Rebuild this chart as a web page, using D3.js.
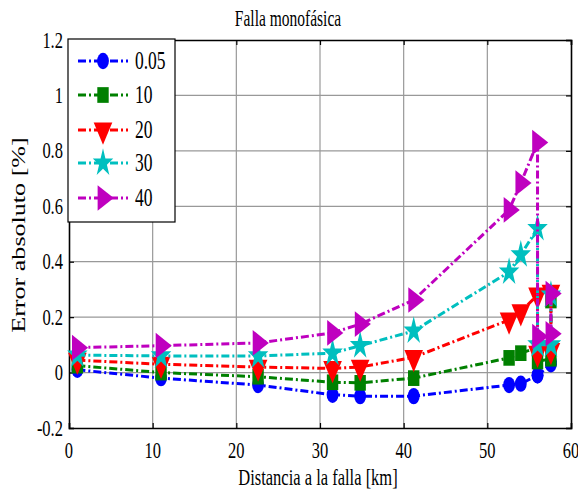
<!DOCTYPE html>
<html>
<head>
<meta charset="utf-8">
<script src="https://cdn.jsdelivr.net/npm/d3@7"></script>
<style>
  body { margin: 0; background: #fff; }
  svg { font-family: 'Liberation Serif', 'Times New Roman', serif; }
</style>
</head>
<body>
<svg id="chart" width="578" height="495"></svg>
<script>
// data
var distance = [1, 11, 22.6, 31.5, 34.8, 41.2, 52.6, 54, 56, 56, 57.6, 57.6];
var err005 = [0.01, -0.02, -0.045, -0.08, -0.085, -0.085, -0.045, -0.04, -0.01, -0.01, 0.03, 0.04];
var err10  = [0.025, 0.0, -0.015, -0.035, -0.037, -0.02, 0.053, 0.07, 0.09, 0.04, 0.05, 0.26];
var err20  = [0.045, 0.03, 0.02, 0.015, 0.02, 0.055, 0.19, 0.22, 0.28, 0.07, 0.08, 0.29];
var err30  = [0.063, 0.06, 0.06, 0.07, 0.097, 0.15, 0.363, 0.425, 0.52, 0.1, 0.1, 0.28];
var err40  = [0.09, 0.097, 0.107, 0.143, 0.175, 0.262, 0.587, 0.684, 0.83, 0.13, 0.14, 0.285];

var seriesNames = ['0.05', '10', '20', '30', '40'];
var seriesValues = [err005, err10, err20, err30, err40];
var seriesColors = ['#0000ff', '#008000', '#ff0000', '#00bfbf', '#bf00bf'];
var seriesSymbols = ['circle', 'square', 'triDown', 'star', 'triRight'];

var xTicks = [0, 10, 20, 30, 40, 50, 60];
var yTicks = [-0.2, 0, 0.2, 0.4, 0.6, 0.8, 1];
var yTickLabels = ['-0.2', '0', '0.2', '0.4', '0.6', '0.8', '1', '1.2'];

var svg = d3.select('#chart');

// layout
var plot = {l: 69, t: 40, w: 502, h: 388};
var stretch = 1.45; // the original picture is stretched vertically

var xScale = d3.scaleLinear().domain([0, 60]).range([plot.l, plot.l + plot.w]);
var yScale = d3.scaleLinear().domain([-0.2, 1.2]).range([plot.t + plot.h, plot.t]);

function addText(x, y, str, size, anchor, rotate) {
    var t = 'translate(' + [x, y] + ') scale(1,' + stretch + ')';
    if (rotate) t += ' rotate(' + rotate + ')';
    svg.append('text')
        .attr('transform', t)
        .attr('text-anchor', anchor || 'start')
        .style('font-size', size + 'px')
        .text(str);
}

// grid
var grid = svg.append('g').attr('class', 'grid');
xTicks.slice(1, -1).forEach(function(v) {
    grid.append('line')
        .attr('x1', xScale(v)).attr('x2', xScale(v))
        .attr('y1', plot.t).attr('y2', plot.t + plot.h)
        .attr('stroke', '#999').attr('stroke-width', 1.2);
});
d3.range(0, 1.01, 0.2).forEach(function(v) {
    grid.append('line')
        .attr('x1', plot.l).attr('x2', plot.l + plot.w)
        .attr('y1', yScale(v)).attr('y2', yScale(v))
        .attr('stroke', '#999').attr('stroke-width', 1.2);
});

// axes, MATLAB style inward ticks on all sides
var xAxisB = svg.append('g')
    .attr('transform', 'translate(' + [0, plot.t + plot.h] + ')')
    .call(d3.axisBottom(xScale).tickValues(xTicks).tickSize(-5).tickFormat(''));
var xAxisT = svg.append('g')
    .attr('transform', 'translate(' + [0, plot.t] + ')')
    .call(d3.axisTop(xScale).tickValues(xTicks).tickSize(-5).tickFormat(''));
var yAxisL = svg.append('g')
    .attr('transform', 'translate(' + [plot.l, 0] + ')')
    .call(d3.axisLeft(yScale).tickValues(yTicks.concat([1.2])).tickSize(-5).tickFormat(''));
var yAxisR = svg.append('g')
    .attr('transform', 'translate(' + [plot.l + plot.w, 0] + ')')
    .call(d3.axisRight(yScale).tickValues(yTicks.concat([1.2])).tickSize(-5).tickFormat(''));
svg.selectAll('.domain').attr('stroke', '#000').attr('stroke-width', 1.6);
svg.selectAll('.tick line').attr('stroke', '#000').attr('stroke-width', 1.2);

// tick labels
xTicks.forEach(function(v) {
    addText(xScale(v), 458, String(v), 16.5, 'middle');
});
yTicks.concat([1.2]).forEach(function(v, i) {
    addText(63, yScale(v) + 7.5, yTickLabels[i], 16.5, 'end');
});

// titles
addText(288, 26, 'Falla monofásica', 15.5, 'middle');
addText(318, 485, 'Distancia a la falla [km]', 16.5, 'middle');
addText(25, 235, 'Error absoluto [%]', 18, 'middle', -90);

// marker shapes
var symbolMap = {
    circle: d3.symbol().type(d3.symbolCircle).size(110),
    square: d3.symbol().type(d3.symbolSquare).size(130),
    triDown: d3.symbol().type(d3.symbolTriangle).size(150),
    star: d3.symbol().type(d3.symbolStar).size(130),
    triRight: d3.symbol().type(d3.symbolTriangle).size(150)
};
var symbolRotate = {circle: 0, square: 0, triDown: 180, star: 0, triRight: 90};

function markerTransform(x, y, sym) {
    return 'translate(' + [x, y] + ') scale(1,' + (stretch * 0.95) + ') rotate(' + symbolRotate[sym] + ')';
}

var line = d3.line()
    .x(function(d) { return xScale(d[0]); })
    .y(function(d) { return yScale(d[1]); });

var seriesG = svg.append('g');
seriesValues.forEach(function(vals, i) {
    var pts = vals.map(function(v, j) { return [distance[j], v]; });
    var g = seriesG.append('g');
    g.append('path')
        .datum(pts)
        .attr('d', line)
        .attr('fill', 'none')
        .attr('stroke', seriesColors[i])
        .attr('stroke-width', 3)
        .attr('stroke-dasharray', '8,3,2,3');
    g.selectAll('.mk')
        .data(pts)
        .enter().append('path')
        .attr('class', 'mk')
        .attr('d', symbolMap[seriesSymbols[i]])
        .attr('fill', seriesColors[i])
        .attr('transform', function(d) {
            return markerTransform(xScale(d[0]), yScale(d[1]), seriesSymbols[i]);
        });
});

// legend
var legend = svg.append('g');
legend.append('rect')
    .attr('x', 68).attr('y', 39).attr('width', 107).attr('height', 183)
    .attr('fill', '#fff').attr('stroke', '#000').attr('stroke-width', 1.2);
var legendY = [61, 95, 130, 163, 198];
seriesNames.forEach(function(name, i) {
    var y = legendY[i];
    legend.append('line')
        .attr('x1', 78).attr('x2', 128).attr('y1', y).attr('y2', y)
        .attr('stroke', seriesColors[i]).attr('stroke-width', 3)
        .attr('stroke-dasharray', '8,3,2,3');
    legend.append('path')
        .attr('d', symbolMap[seriesSymbols[i]])
        .attr('fill', seriesColors[i])
        .attr('transform', markerTransform(103, y, seriesSymbols[i]));
    addText(135, y + 8, name, 17.5, 'start');
});
</script>
</body>
</html>
